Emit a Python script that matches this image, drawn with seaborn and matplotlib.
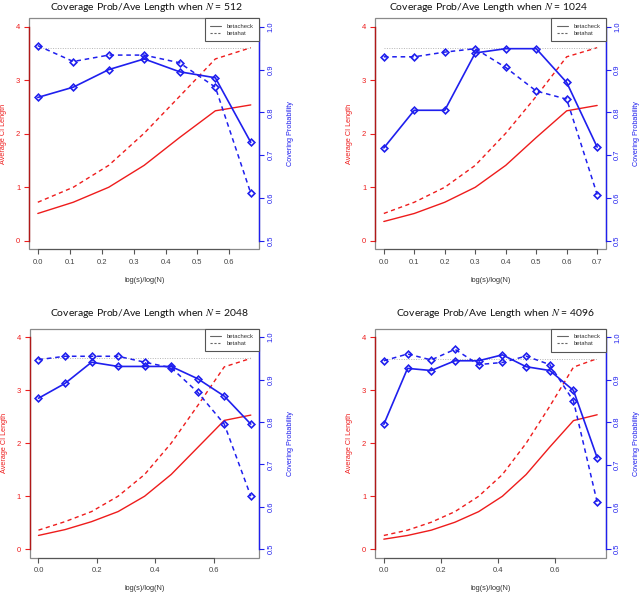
import matplotlib
matplotlib.use("Agg")
import matplotlib.pyplot as plt
from matplotlib.lines import Line2D
from matplotlib.patches import Rectangle
import seaborn as sns

sns.set_style("white")
plt.rcParams['font.family'] = ['Liberation Sans', 'DejaVu Sans']
plt.rcParams['mathtext.fontset'] = 'stix'

RED = '#ee1c1c'
BLUE = '#1f1fee'
NOMINAL = 0.95

# N = 512
x_512 = [0.0, 0.111, 0.222, 0.333, 0.444, 0.556, 0.667]
len_check_512 = [0.51, 0.72, 1.00, 1.41, 1.93, 2.43, 2.54]
len_hat_512 = [0.72, 1.00, 1.41, 2.01, 2.70, 3.40, 3.61]
cov_check_512 = [0.835, 0.859, 0.900, 0.925, 0.895, 0.881, 0.730]
cov_hat_512 = [0.956, 0.919, 0.934, 0.934, 0.916, 0.859, 0.611]

# N = 1024
x_1024 = [0.0, 0.1, 0.2, 0.3, 0.4, 0.5, 0.6, 0.7]
len_check_1024 = [0.36, 0.51, 0.72, 1.00, 1.41, 1.93, 2.43, 2.53]
len_hat_1024 = [0.51, 0.72, 1.00, 1.41, 2.01, 2.70, 3.44, 3.61]
cov_check_1024 = [0.717, 0.805, 0.805, 0.939, 0.949, 0.949, 0.870, 0.719]
cov_hat_1024 = [0.930, 0.930, 0.941, 0.949, 0.905, 0.850, 0.831, 0.608]

# N = 2048
x_2048 = [0.0, 0.0909, 0.1818, 0.2727, 0.3636, 0.4545, 0.5455, 0.6364, 0.7273]
len_check_2048 = [0.26, 0.37, 0.52, 0.71, 1.00, 1.41, 1.92, 2.43, 2.53]
len_hat_2048 = [0.36, 0.52, 0.71, 1.00, 1.41, 2.00, 2.71, 3.44, 3.60]
cov_check_2048 = [0.856, 0.891, 0.941, 0.931, 0.931, 0.931, 0.902, 0.861, 0.795]
cov_hat_2048 = [0.947, 0.955, 0.955, 0.955, 0.941, 0.928, 0.870, 0.795, 0.625]

# N = 4096
x_4096 = [0.0, 0.0833, 0.1667, 0.25, 0.3333, 0.4167, 0.5, 0.5833, 0.6667, 0.75]
len_check_4096 = [0.19, 0.26, 0.36, 0.51, 0.71, 1.00, 1.41, 1.93, 2.43, 2.54]
len_hat_4096 = [0.26, 0.36, 0.51, 0.71, 1.00, 1.41, 2.00, 2.70, 3.44, 3.60]
cov_check_4096 = [0.795, 0.927, 0.922, 0.945, 0.945, 0.959, 0.931, 0.922, 0.875, 0.716]
cov_hat_4096 = [0.945, 0.961, 0.947, 0.972, 0.936, 0.941, 0.956, 0.936, 0.850, 0.611]

xticks_top = [0.0, 0.1, 0.2, 0.3, 0.4, 0.5, 0.6]
xticks_1024 = [0.0, 0.1, 0.2, 0.3, 0.4, 0.5, 0.6, 0.7]
xticks_bottom = [0.0, 0.2, 0.4, 0.6]

W, H = 641, 594
DASH = (0, (3, 2.5))


def px_box(l, t, r, b):
    return [l / W, 1 - b / H, (r - l) / W, (b - t) / H]


def draw_panel(box, n, x, lc, lh, cc, ch, xticks, title_xy):
    ax = fig.add_axes(px_box(*box))
    ax2 = ax.twinx()

    # red: average CI length
    sns.lineplot(x=x, y=lc, ax=ax, color=RED, lw=1.0)
    sns.lineplot(x=x, y=lh, ax=ax, color=RED, lw=1.0, linestyle=DASH)

    # blue: coverage
    ax2.hlines(NOMINAL, x[0], x[-1], colors='#b5b5b5', linestyles=(0, (1, 1.5)), lw=0.7)
    mk = dict(marker='D', markersize=3.4, markerfacecolor='none',
              markeredgecolor=BLUE, markeredgewidth=1.2)
    sns.lineplot(x=x, y=cc, ax=ax2, color=BLUE, lw=1.2, **mk)
    sns.lineplot(x=x, y=ch, ax=ax2, color=BLUE, lw=1.1, linestyle=DASH, **mk)

    span = x[-1] - x[0]
    ax.set_xlim(x[0] - 0.04 * span, x[-1] + 0.04 * span)
    ax.set_ylim(-0.16, 4.16)
    ax2.set_ylim(0.48, 1.02)

    ax.set_xticks(xticks)
    ax.set_xticklabels([f'{t:.1f}' for t in xticks])
    ax.set_yticks([0, 1, 2, 3, 4])
    ax2.set_yticks([0.5, 0.6, 0.7, 0.8, 0.9, 1.0])
    ax2.set_yticklabels([f'{t:.1f}' for t in [0.5, 0.6, 0.7, 0.8, 0.9, 1.0]])
    ax.set_xlabel('')
    ax.set_ylabel('')
    ax2.set_ylabel('')

    for s in ax.spines.values():
        s.set_visible(False)
    for s in ax2.spines.values():
        s.set_visible(False)
    ax.spines['left'].set_visible(True)
    ax.spines['left'].set_bounds(0, 4)
    ax.spines['left'].set_color('#b01818')
    ax.spines['left'].set_linewidth(1.0)
    ax.spines['bottom'].set_visible(True)
    ax.spines['bottom'].set_bounds(xticks[0], xticks[-1])
    ax.spines['bottom'].set_color('#555555')
    ax.spines['bottom'].set_linewidth(0.8)
    ax2.spines['right'].set_visible(True)
    ax2.spines['right'].set_bounds(0.5, 1.0)
    ax2.spines['right'].set_color(BLUE)
    ax2.spines['right'].set_linewidth(1.0)

    ax.add_patch(Rectangle((0, 0), 1, 1, transform=ax.transAxes, fill=False,
                           edgecolor='#8a8a8a', lw=0.9, clip_on=False, zorder=2.4))

    ax.tick_params(axis='x', colors='#555555', labelcolor='#444444', direction='out',
                   length=3.5, width=0.8, labelsize=5.5, pad=3.5, bottom=True)
    ax.tick_params(axis='y', colors=RED, direction='out', length=3.5, width=0.8,
                   labelsize=5.5, pad=3, left=True)
    ax2.tick_params(axis='y', colors=BLUE, direction='out', length=3.5, width=0.8,
                    labelsize=5.5, pad=2.5, right=True, labelrotation=90)
    for lab in ax2.get_yticklabels():
        lab.set_va('center')

    ax.text(-0.113, 0.5, 'Average CI Length', transform=ax.transAxes, rotation=90,
            ha='center', va='center', color=RED, fontsize=5.2)
    ax.text(1.135, 0.5, 'Covering Probability', transform=ax.transAxes, rotation=90,
            ha='center', va='center', color=BLUE, fontsize=5.2)
    ax.text(0.5, -0.134, 'log(s)/log(N)', transform=ax.transAxes,
            ha='center', va='center', color='#333333', fontsize=5.3)

    handles = [Line2D([], [], color='#666666', lw=0.8),
               Line2D([], [], color='#666666', lw=0.8, linestyle=(0, (2, 1.5)))]
    leg = ax2.legend(handles, ['betacheck', 'betahat'], loc='upper right',
                     bbox_to_anchor=(1, 1), borderaxespad=0, fontsize=4.2,
                     frameon=True, fancybox=False, edgecolor='#555555', framealpha=1,
                     handlelength=1.9, handletextpad=1.0, borderpad=0.9,
                     labelspacing=0.35, labelcolor='#333333')
    leg.get_frame().set_linewidth(0.8)

    fig.text(title_xy[0] / W, 1 - title_xy[1] / H,
             rf'Coverage Prob/Ave Length when $N$ = {n}',
             ha='center', va='center', fontsize=7.5, color='#111111',
             family=['Lato', 'DejaVu Sans'])


fig = plt.figure(figsize=(6.41, 5.94), dpi=100)

draw_panel((29.3, 18.3, 259.3, 249.3), 512, x_512, len_check_512, len_hat_512,
           cov_check_512, cov_hat_512, xticks_top, (146, 7))
draw_panel((375.3, 18.3, 605.7, 249.3), 1024, x_1024, len_check_1024, len_hat_1024,
           cov_check_1024, cov_hat_1024, xticks_1024, (488, 7))
draw_panel((30, 328.7, 259.3, 557.7), 2048, x_2048, len_check_2048, len_hat_2048,
           cov_check_2048, cov_hat_2048, xticks_bottom, (149, 314))
draw_panel((375.3, 329, 605.7, 557.7), 4096, x_4096, len_check_4096, len_hat_4096,
           cov_check_4096, cov_hat_4096, xticks_bottom, (495, 314))

fig.savefig('out.png', dpi=100, facecolor='white')
